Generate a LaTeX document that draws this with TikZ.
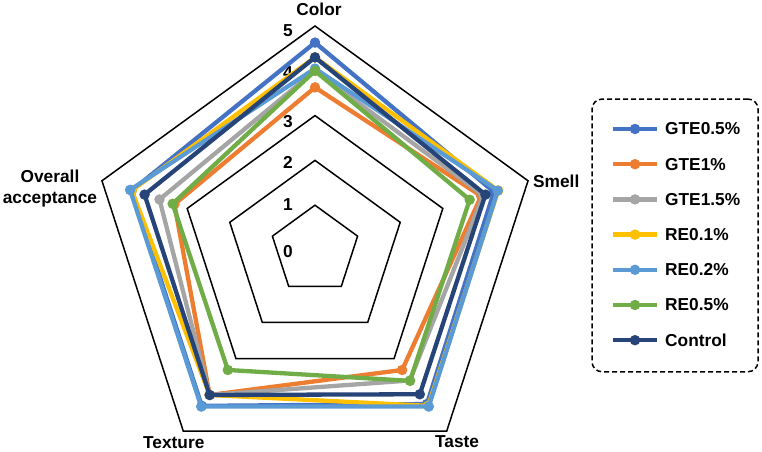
\documentclass[tikz,border=0pt]{standalone}
\usepackage{fontspec}
\setmainfont{Liberation Sans}
\definecolor{gteA}{HTML}{4472C4}
\definecolor{gteB}{HTML}{ED7D31}
\definecolor{gteC}{HTML}{A5A5A5}
\definecolor{reA}{HTML}{FFC000}
\definecolor{reB}{HTML}{5B9BD5}
\definecolor{reC}{HTML}{70AD47}
\definecolor{ctrl}{HTML}{264478}
\tikzset{
    lbl/.style={font=\fontsize{17.3}{20.6}\selectfont\bfseries, inner sep=0pt},
    ring/.style={line width=1.5pt, line join=miter},
    series/.style={line width=4.3pt, line join=round},
    dot/.style={circle, fill=#1, inner sep=0pt, minimum size=10.5pt},
}
\begin{document}
\begin{tikzpicture}[x=44.8pt, y=44.8pt]
    \useasboundingbox (-315pt,-201pt) rectangle (447pt,250pt);
    % grid
    \foreach \r in {1,2,3,5}
        \draw[ring] (90:\r) -- (18:\r) -- (-54:\r) -- (-126:\r) -- (162:\r) -- cycle;
    \foreach \v/\y in {0/-2,1/45,2/88,3/128,4/177,5/219}
        \node[lbl] (tick\v) at (-27pt,\y pt) {\v};
    % axis labels
    \node[lbl, anchor=base] (color) at (4pt,235pt) {Color};
    \node[lbl, anchor=base west] (smell) at (218pt,63pt) {Smell};
    \node[lbl, anchor=base west] (taste) at (120pt,-197pt) {Taste};
    \node[lbl, anchor=base west] (texture) at (-172pt,-198pt) {Texture};
    \node[lbl, align=center] (overall) at (-265pt,61.5pt) {Overall\\acceptance};
    % data: color, smell, taste, texture, overall acceptance
    \foreach \s/\c/\a/\b/\d/\e/\f in {
        gtea/gteA/4.63/4.2/4.25/4.3/4.3,
        gteb/gteB/3.63/3.9/3.31/4.0/3.3,
        gtec/gteC/4.0/3.95/3.6/4.0/3.65,
        rea/reA/4.3/4.3/4.3/4.0/4.3,
        reb/reB/4.05/4.29/4.32/4.32/4.34,
        rec/reC/4.0/3.63/3.61/3.31/3.34,
        ctrl/ctrl/4.3/4.0/3.98/4.0/4.0} {
        \coordinate (\s1) at (90:\a);
        \coordinate (\s2) at (18:\b);
        \coordinate (\s3) at (-54:\d);
        \coordinate (\s4) at (-126:\e);
        \coordinate (\s5) at (162:\f);
        \draw[series, \c] (\s1) -- (\s2) -- (\s3) -- (\s4) -- (\s5) -- cycle;
        \foreach \i in {1,...,5}
            \node[dot=\c] (\s\i m) at (\s\i) {};
    }
    % legend
    \node[draw, line width=1.5pt, dash pattern=on 5pt off 3pt, rounded corners=10pt,
        minimum width=166pt, minimum height=272.7pt, inner sep=0pt] (legend) at (360pt,14.6pt) {};
    \foreach \s/\c/\t [count=\k from 0] in {gtea/gteA/GTE0.5\%, gteb/gteB/GTE1\%,
        gtec/gteC/GTE1.5\%, rea/reA/RE0.1\%, reb/reB/RE0.2\%, rec/reC/RE0.5\%, ctrl/ctrl/Control} {
        \coordinate (\s l) at (298pt,121pt-\k*35.2pt);
        \coordinate (\s r) at (342pt,121pt-\k*35.2pt);
        \draw[series, \c] (\s l) -- (\s r);
        \node[dot=\c] (\s key) at (320pt,121pt-\k*35.2pt) {};
        \node[lbl, anchor=west] (\s txt) at (350pt,121pt-\k*35.2pt) {\t};
    }
\end{tikzpicture}
\end{document}
